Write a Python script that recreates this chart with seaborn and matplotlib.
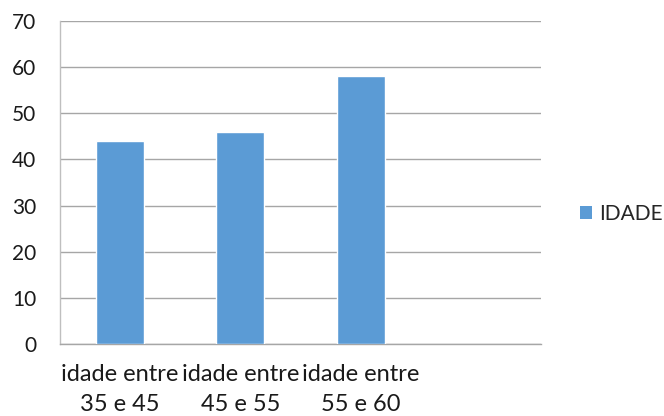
import matplotlib
matplotlib.use("Agg")
import matplotlib.pyplot as plt
from matplotlib.patches import Patch
import seaborn as sns
import pandas as pd
import numpy as np

categories = ["idade entre\n35 e 45", "idade entre\n45 e 55", "idade entre\n55 e 60", ""]
values = [44, 46, 58]
series_name = "IDADE"
y_ticks = [0, 10, 20, 30, 40, 50, 60, 70]

sns.set_theme(style="white")
plt.rcParams["font.family"] = ["Lato", "DejaVu Sans"]

df = pd.DataFrame({"faixa": categories[:len(values)], "valor": values})

fig = plt.figure(figsize=(6.64, 4.16), dpi=100)
ax = fig.add_axes([0.0904, 0.1731, 0.7244, 0.7764])

bar_color = "#5B9BD5"
grid_color = "#A6A6A6"

sns.barplot(data=df, x="faixa", y="valor", order=categories, color=bar_color,
            width=0.4, saturation=1, ax=ax, zorder=3)

ax.set_ylim(0, 70)
ax.set_xlim(-0.5, len(categories) - 0.5)
ax.set_yticks(y_ticks)
ax.set_yticklabels([str(t) for t in y_ticks], fontsize=15, color="#1a1a1a")
ax.set_xticks(range(len(categories)))
ax.set_xticklabels(categories, fontsize=17, color="#1a1a1a", linespacing=1.55)
ax.set_xlabel("")
ax.set_ylabel("")

# boundaries between categories carry the tick marks
ax.set_xticks(np.arange(-0.5, len(categories), 1.0), minor=True)
ax.tick_params(axis="x", which="major", length=0, pad=14.5)
ax.tick_params(axis="x", which="minor", length=5, width=1, color=grid_color, direction="out")
ax.tick_params(axis="y", which="major", length=6, width=1, color=grid_color, direction="out", pad=11)

ax.yaxis.grid(True, color=grid_color, linewidth=1)
ax.set_axisbelow(True)
for side in ["top", "right"]:
    ax.spines[side].set_visible(False)
ax.spines["left"].set_color("#BFBFBF")
ax.spines["bottom"].set_color(grid_color)
ax.spines["left"].set_linewidth(1)
ax.spines["bottom"].set_linewidth(1)

handle = Patch(facecolor=bar_color, edgecolor="none")
fig.legend([handle], [series_name], loc="center left", bbox_to_anchor=(0.873, 0.486),
           frameon=False, fontsize=15, handlelength=0.6, handleheight=0.6,
           handletextpad=0.35, borderpad=0, borderaxespad=0)

fig.savefig("out.png", dpi=100, facecolor="white")
